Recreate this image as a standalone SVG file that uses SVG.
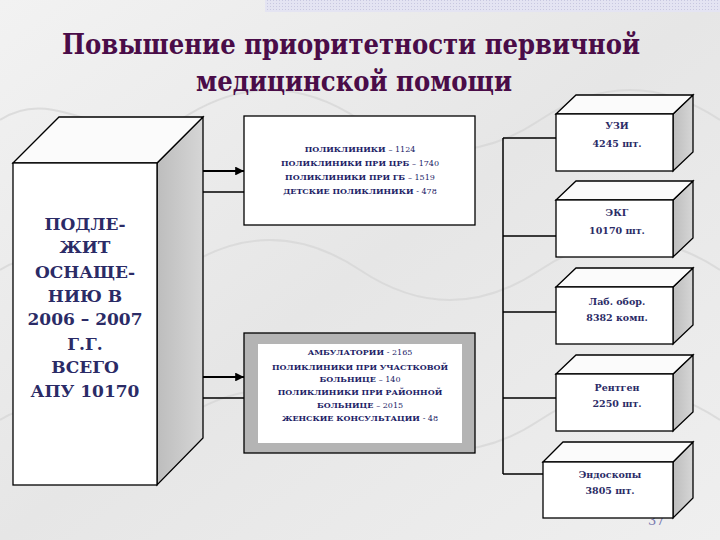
<svg xmlns="http://www.w3.org/2000/svg" width="720" height="540" viewBox="0 0 720 540">
<defs>
<linearGradient id="bg" x1="0" y1="0" x2="1" y2="1">
<stop offset="0" stop-color="#f2f2f2"/><stop offset="0.5" stop-color="#e6e6e6"/><stop offset="1" stop-color="#efefef"/>
</linearGradient>
<linearGradient id="side" x1="0" y1="0" x2="1" y2="0">
<stop offset="0" stop-color="#bdbdbd"/><stop offset="1" stop-color="#d6d6d6"/>
</linearGradient>
<pattern id="band" width="3" height="3" patternUnits="userSpaceOnUse">
<rect width="3" height="3" fill="#e4e4f2"/><rect width="1" height="1" fill="#c8c8e0"/>
</pattern>
<marker id="ah" viewBox="0 0 10 10" refX="10" refY="5" markerWidth="4" markerHeight="4" orient="auto" markerUnits="strokeWidth">
<path d="M0,0 L10,5 L0,10 z" fill="#000"/>
</marker>
</defs>
<style>
.face{fill:#fff;stroke:#000;stroke-width:1.3}
.side{fill:url(#side);stroke:#000;stroke-width:1.3}
.top{fill:#fbfbfb;stroke:#000;stroke-width:1.3}
.ln{stroke:#000;stroke-width:1.5;fill:none}
.ar{stroke:#000;stroke-width:2.2;fill:none;marker-end:url(#ah)}
text{font-family:'DejaVu Serif','Liberation Serif',serif}
.title{font-weight:bold;font-size:27px;fill:#4a0c48;text-anchor:middle}
.big{font-weight:bold;font-size:17px;fill:#2b2b66;text-anchor:middle}
.sm{font-weight:bold;font-size:8px;fill:#222266;text-anchor:middle}
.n{font-weight:normal}
.rb{font-weight:bold;font-size:9.5px;fill:#2b2b66;text-anchor:middle}
.pg{font-size:13px;fill:#7a7ab0}
</style>
<rect width="720" height="540" fill="url(#bg)"/>
<rect x="265" y="0" width="455" height="12" fill="url(#band)"/>
<g fill="none" stroke="#d8d8d8" stroke-width="2" opacity="0.8">
<path d="M0,120 C60,80 120,160 180,120 S300,80 360,120 S480,160 540,120 S660,80 720,120"/>
<path d="M0,420 C60,380 120,460 180,420 S300,380 360,420 S480,460 540,420 S660,380 720,420"/>
<path d="M0,270 C60,230 120,310 180,270 S300,230 360,270 S480,310 540,270 S660,230 720,270"/>
</g>

<g id="title">
<text class="title" x="351" y="54" textLength="578" lengthAdjust="spacingAndGlyphs">Повышение приоритетности первичной</text>
<text class="title" x="354" y="91" textLength="316" lengthAdjust="spacingAndGlyphs">медицинской помощи</text>
</g>

<text class="pg" x="648" y="525">37</text>

<g id="connectors">
<path class="ar" d="M203,171 H244"/>
<path class="ln" d="M203,192 H244"/>
<path class="ar" d="M203,377 H244"/>
<path class="ln" d="M203,398 H244"/>
<path class="ln" d="M503,138 V474"/>
<path class="ln" d="M503,138 H556"/>
<path class="ln" d="M503,236 H556"/>
<path class="ln" d="M503,312 H556"/>
<path class="ln" d="M503,398 H556"/>
<path class="ln" d="M503,474 H543"/>
</g>

<g id="left-box">
<polygon class="side" points="157,163 203,117 203,438 157,485"/>
<polygon class="top" points="13,163 59,117 203,117 157,163"/>
<rect class="face" x="13" y="163" width="144" height="322"/>
<text class="big" x="85" y="230">ПОДЛЕ-</text>
<text class="big" x="85" y="253">ЖИТ</text>
<text class="big" x="85" y="278">ОСНАЩЕ-</text>
<text class="big" x="85" y="302">НИЮ В</text>
<text class="big" x="85" y="325">2006 – 2007</text>
<text class="big" x="85" y="350">Г.Г.</text>
<text class="big" x="85" y="373">ВСЕГО</text>
<text class="big" x="85" y="397">АПУ 10170</text>
</g>

<g id="polyclinics">
<rect class="face" x="244" y="116" width="231" height="109"/>
<text class="sm" x="360" y="152">ПОЛИКЛИНИКИ <tspan class="n">– 1124</tspan></text>
<text class="sm" x="360" y="166">ПОЛИКЛИНИКИ ПРИ ЦРБ <tspan class="n">– 1740</tspan></text>
<text class="sm" x="360" y="180">ПОЛИКЛИНИКИ ПРИ ГБ <tspan class="n">– 1519</tspan></text>
<text class="sm" x="360" y="194">ДЕТСКИЕ ПОЛИКЛИНИКИ <tspan class="n">- 478</tspan></text>
</g>

<g id="ambulatories">
<rect x="244" y="333" width="231" height="120" fill="#b4b4b4" stroke="#000" stroke-width="1.3"/>
<rect x="258" y="344" width="204" height="99" fill="#fff"/>
<text class="sm" x="360" y="355">АМБУЛАТОРИИ <tspan class="n">- 2165</tspan></text>
<text class="sm" x="360" y="370">ПОЛИКЛИНИКИ ПРИ УЧАСТКОВОЙ</text>
<text class="sm" x="360" y="382">БОЛЬНИЦЕ <tspan class="n">– 140</tspan></text>
<text class="sm" x="360" y="395">ПОЛИКЛИНИКИ ПРИ РАЙОННОЙ</text>
<text class="sm" x="360" y="408">БОЛЬНИЦЕ <tspan class="n">– 2015</tspan></text>
<text class="sm" x="360" y="421">ЖЕНСКИЕ КОНСУЛЬТАЦИИ <tspan class="n">- 48</tspan></text>
</g>

<g id="uzi">
<polygon class="side" points="673,114 693,95 693,152 673,171"/>
<polygon class="top" points="556,114 576,95 693,95 673,114"/>
<rect class="face" x="556" y="114" width="117" height="57"/>
<text class="rb" x="617" y="129">УЗИ</text>
<text class="rb" x="617" y="147">4245 шт.</text>
</g>

<g id="ekg">
<polygon class="side" points="673,200 693,181 693,238 673,257"/>
<polygon class="top" points="556,200 576,181 693,181 673,200"/>
<rect class="face" x="556" y="200" width="117" height="57"/>
<text class="rb" x="617" y="216">ЭКГ</text>
<text class="rb" x="617" y="234">10170 шт.</text>
</g>

<g id="lab">
<polygon class="side" points="673,287 693,268 693,325 673,344"/>
<polygon class="top" points="556,287 576,268 693,268 673,287"/>
<rect class="face" x="556" y="287" width="117" height="57"/>
<text class="rb" x="617" y="305">Лаб. обор.</text>
<text class="rb" x="617" y="321">8382 комп.</text>
</g>

<g id="xray">
<polygon class="side" points="673,374 693,355 693,412 673,431"/>
<polygon class="top" points="556,374 576,355 693,355 673,374"/>
<rect class="face" x="556" y="374" width="117" height="57"/>
<text class="rb" x="617" y="391">Рентген</text>
<text class="rb" x="617" y="407">2250 шт.</text>
</g>

<g id="endoscopes">
<polygon class="side" points="673,462 693,442 693,498 673,518"/>
<polygon class="top" points="543,462 563,442 693,442 673,462"/>
<rect class="face" x="543" y="462" width="130" height="56"/>
<text class="rb" x="610" y="478">Эндоскопы</text>
<text class="rb" x="610" y="494">3805 шт.</text>
</g>
</svg>
